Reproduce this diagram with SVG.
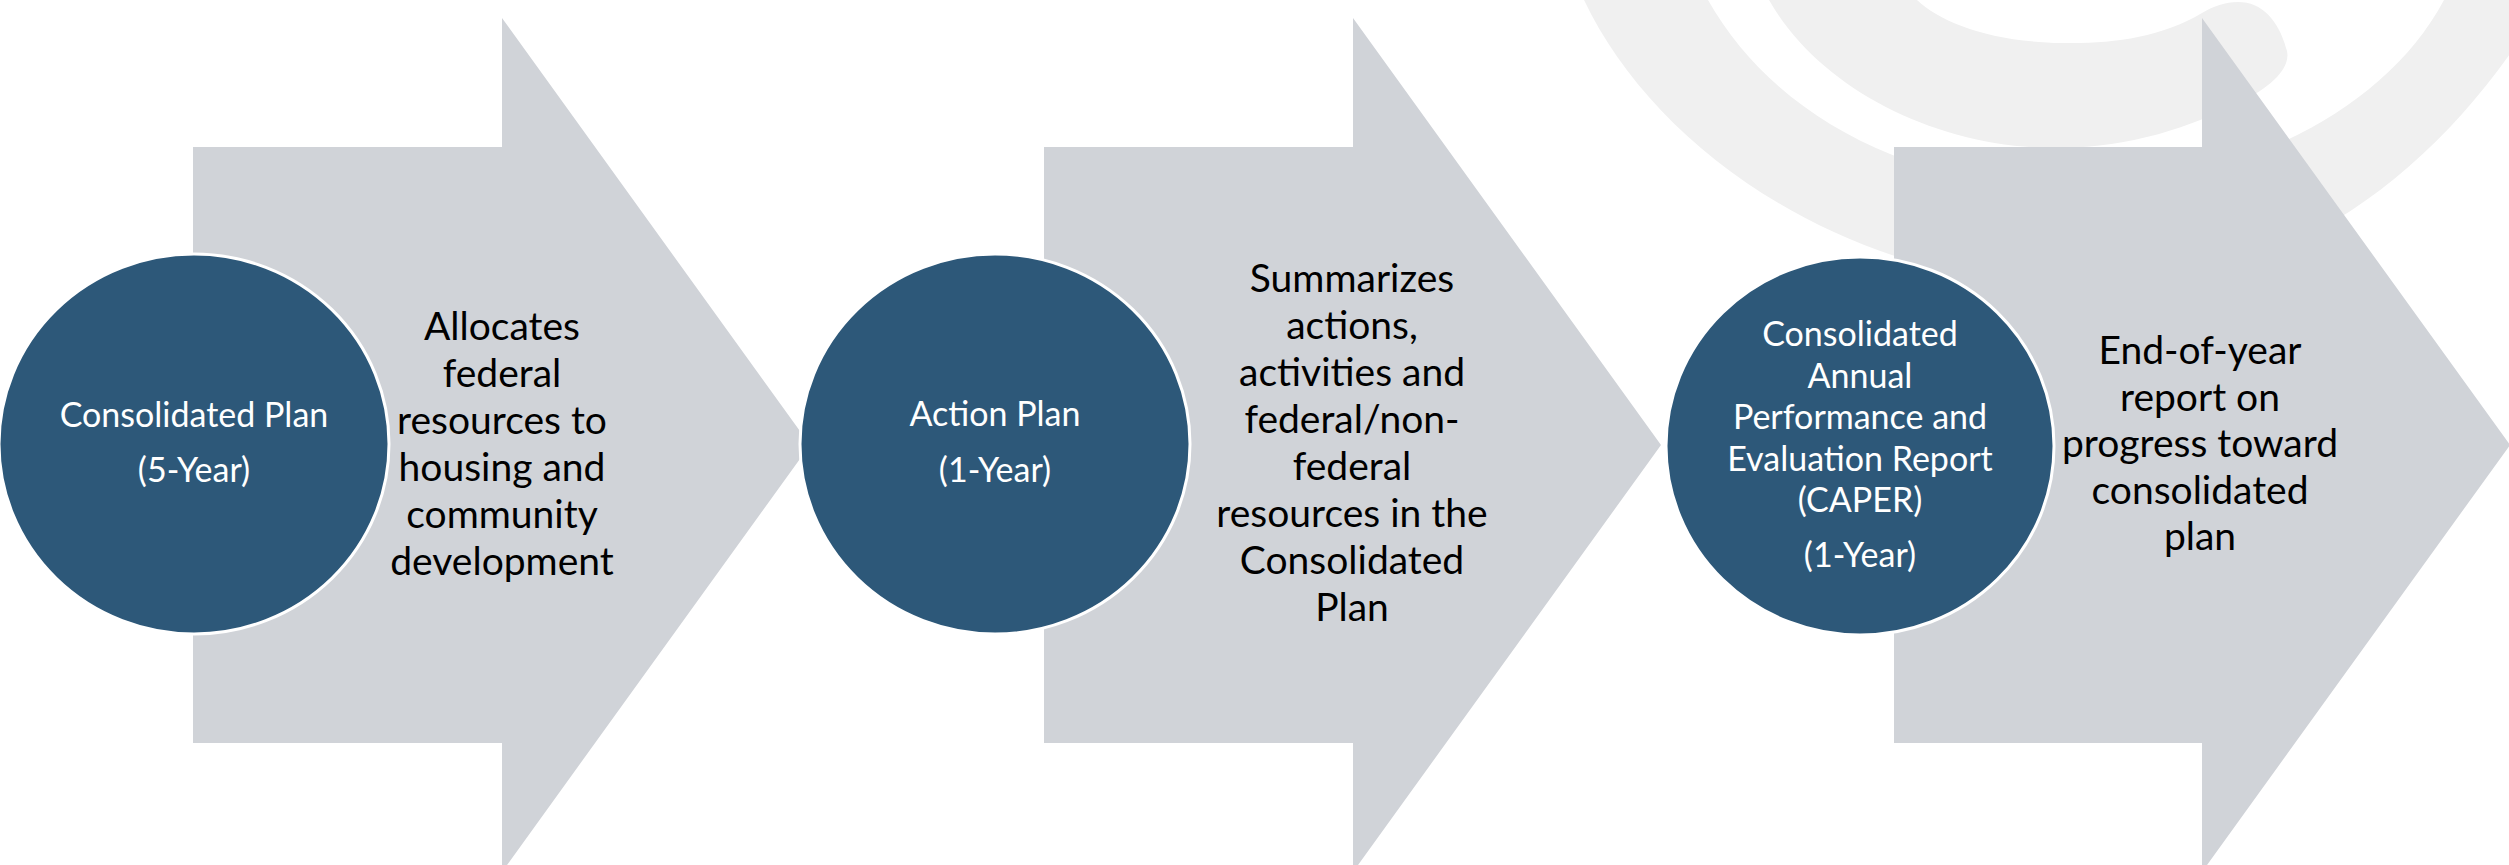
<svg xmlns="http://www.w3.org/2000/svg" width="2509" height="865" viewBox="0 0 2509 865">
<style>
.wm{fill:#F0F0F0;stroke:none}
.arrow{fill:#D0D3D8;stroke:none}
.circ{fill:#2D5879;stroke:#FFFFFF;stroke-width:3}
.ct{font-family:Lato,"Open Sans","Liberation Sans",sans-serif;font-size:34px;fill:#FFFFFF;text-anchor:middle}
.dt{font-family:Lato,"Open Sans","Liberation Sans",sans-serif;font-size:39px;fill:#000000;text-anchor:middle}
</style>
<rect width="2509" height="865" fill="#FFFFFF"/>
<g id="watermark">
<path class="wm" fill-rule="evenodd" d="M1584,0 C1655,150 1850,290 2100,288 C2300,286 2450,160 2545,0 Z M2444,0 C2380,120 2220,190 2058,187 C1900,184 1770,110 1708,0 Z"/>
<path class="wm" d="M1769,0 C1820,90 1940,150 2062,148 C2130,147 2190,128 2244,100 C2280,82 2292,62 2286,48 C2278,20 2262,2 2238,2 C2225,2 2214,6 2202,13 C2160,38 2110,44 2062,43 C1990,42 1940,22 1917,0 Z"/>
</g>
<g id="connectors">
<path class="arrow" d="M193,147 H502 V18 L810,445 L502,872 V743 H193 Z"/>
<path class="arrow" d="M1044,147 H1353 V18 L1661,445 L1353,872 V743 H1044 Z"/>
<path class="arrow" d="M1894,147 H2202 V18 L2510,445 L2202,872 V743 H1894 Z"/>
</g>
<g id="node-consolidated-plan">
<ellipse class="circ" cx="194" cy="444" rx="195" ry="190"/>
<text class="ct" x="194" y="427">Consolidated Plan</text>
<text class="ct" x="194" y="482">(5-Year)</text>
</g>
<g id="desc-consolidated-plan">
<text class="dt" x="502" y="340"><tspan x="502">Allocates</tspan><tspan x="502" dy="47">federal</tspan><tspan x="502" dy="47">resources to</tspan><tspan x="502" dy="47">housing and</tspan><tspan x="502" dy="47">community</tspan><tspan x="502" dy="47">development</tspan></text>
</g>
<g id="node-action-plan">
<ellipse class="circ" cx="995" cy="444" rx="195" ry="190"/>
<text class="ct" x="995" y="426">Action Plan</text>
<text class="ct" x="995" y="482">(1-Year)</text>
</g>
<g id="desc-action-plan">
<text class="dt" x="1352" y="292"><tspan x="1352">Summarizes</tspan><tspan x="1352" dy="47">actions,</tspan><tspan x="1352" dy="47">activities and</tspan><tspan x="1352" dy="47">federal/non-</tspan><tspan x="1352" dy="47">federal</tspan><tspan x="1352" dy="47">resources in the</tspan><tspan x="1352" dy="47">Consolidated</tspan><tspan x="1352" dy="47">Plan</tspan></text>
</g>
<g id="node-caper">
<ellipse class="circ" cx="1860" cy="446" rx="194" ry="189"/>
<text class="ct" x="1860" y="346"><tspan x="1860">Consolidated</tspan><tspan x="1860" dy="41.5">Annual</tspan><tspan x="1860" dy="41.5">Performance and</tspan><tspan x="1860" dy="41.5">Evaluation Report</tspan><tspan x="1860" dy="41.5">(CAPER)</tspan></text>
<text class="ct" x="1860" y="567">(1-Year)</text>
</g>
<g id="desc-caper">
<text class="dt" x="2200" y="364"><tspan x="2200">End-of-year</tspan><tspan x="2200" dy="46.5">report on</tspan><tspan x="2200" dy="46.5">progress toward</tspan><tspan x="2200" dy="46.5">consolidated</tspan><tspan x="2200" dy="46.5">plan</tspan></text>
</g>
</svg>
